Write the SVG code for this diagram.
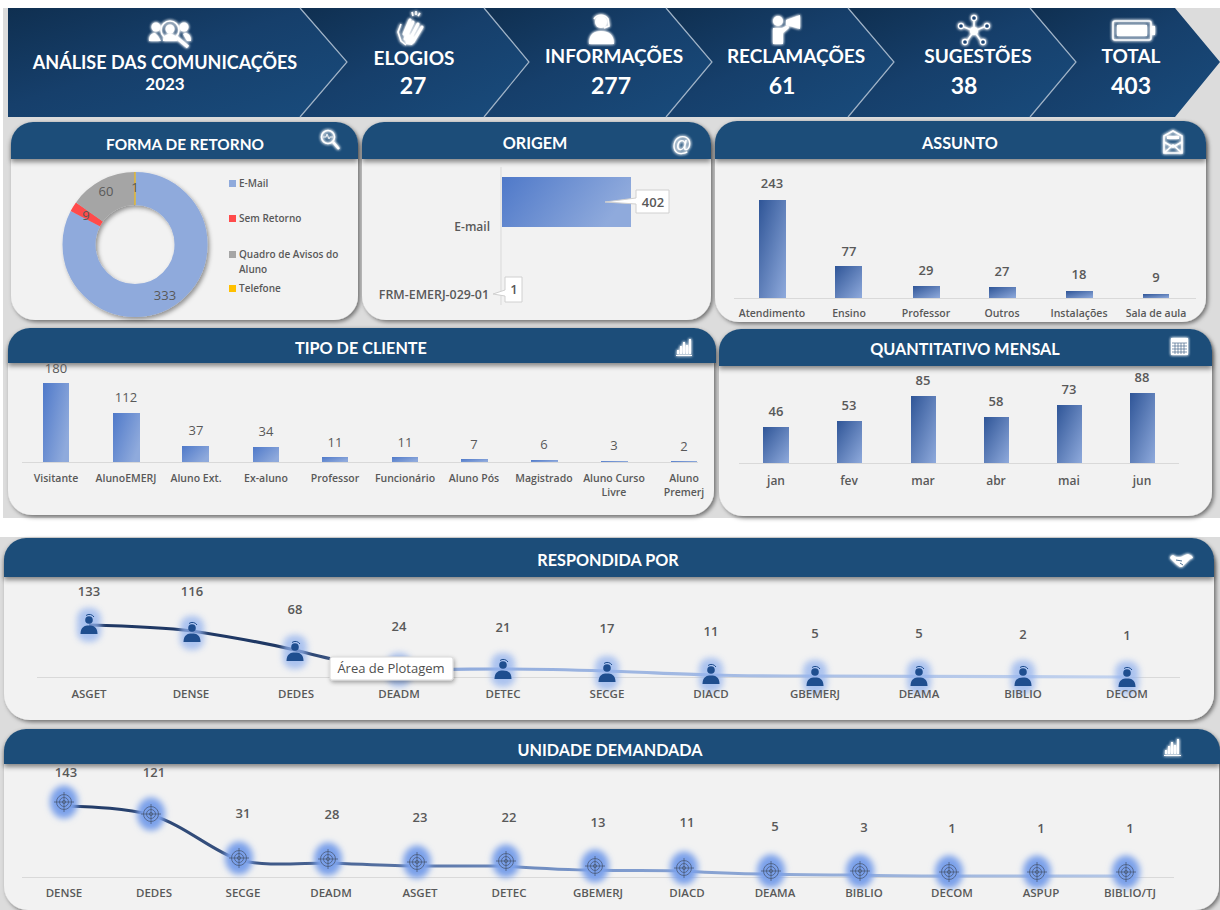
<svg xmlns="http://www.w3.org/2000/svg" xmlns:xlink="http://www.w3.org/1999/xlink" width="1220" height="910" viewBox="0 0 1220 910">
<style>
text{font-family:"Open Sans","Noto Sans","Liberation Sans",sans-serif;fill:#595959;text-anchor:middle}
.hd{font-family:Lato,"Liberation Sans",sans-serif;font-weight:700;font-size:16.200px;fill:#fff}
.bt{font-family:Lato,"Liberation Sans",sans-serif;font-weight:700;font-size:19px;fill:#fff}
.bn{font-family:Lato,"Liberation Sans",sans-serif;font-weight:700;font-size:23px;fill:#fff}
.v{font-size:13px;font-weight:600}
.vn{font-size:13px;font-weight:400}
.l{font-size:11.500px;font-weight:600}
.s{font-size:10.500px;font-weight:600}
.lg{font-size:10px;font-weight:600;text-anchor:start}
.hdr{fill:#1f4e79}
.body{fill:#f2f2f2}
.axis{stroke:#d9d9d9;stroke-width:1;fill:none}
.ic{fill:#fff;stroke:none}
.icl{fill:none;stroke:#fff;stroke-width:1.600}
.sep{fill:none;stroke:#9fb2c6;stroke-width:1.200}
.bar{fill:url(#bar)}
.barh{fill:url(#barh)}
.bard{fill:url(#bard)}
</style>
<defs>
<linearGradient id="chev" x1="0" y1="0" x2="1" y2="1"><stop offset="0" stop-color="#0f2f50"/><stop offset=".45" stop-color="#163f6b"/><stop offset="1" stop-color="#194c7d"/></linearGradient>
<linearGradient id="bar" x1="0" y1="0" x2="1" y2="1"><stop offset="0" stop-color="#2f5597"/><stop offset="1" stop-color="#8faadc"/></linearGradient>
<linearGradient id="barh" x1="0" y1="0" x2="1" y2=".3"><stop offset="0" stop-color="#4f79c9"/><stop offset="1" stop-color="#8faadc"/></linearGradient>
<linearGradient id="bard" x1="0" y1="0" x2="1" y2=".6"><stop offset="0" stop-color="#4f79c9"/><stop offset="1" stop-color="#8faadc"/></linearGradient>
<linearGradient id="lineA" gradientUnits="userSpaceOnUse" x1="89" y1="0" x2="1127" y2="0"><stop offset="0" stop-color="#1f3864"/><stop offset=".2" stop-color="#1f3864"/><stop offset=".33" stop-color="#8faadc"/><stop offset="1" stop-color="#c3d3ee"/></linearGradient>
<linearGradient id="lineB" gradientUnits="userSpaceOnUse" x1="64" y1="0" x2="1126" y2="0"><stop offset="0" stop-color="#1f3864"/><stop offset=".15" stop-color="#36507e"/><stop offset=".5" stop-color="#7b98cc"/><stop offset="1" stop-color="#b4c7e7"/></linearGradient>
<filter id="sh" x="-5%" y="-5%" width="112%" height="115%"><feDropShadow dx="2" dy="2" stdDeviation="2" flood-color="#000" flood-opacity=".5"/></filter>
<filter id="dn" filterUnits="userSpaceOnUse" x="40" y="150" width="200" height="190"><feDropShadow dx="2" dy="2.500" stdDeviation="2" flood-color="#000" flood-opacity=".4"/></filter>
<filter id="hs" x="-5%" y="-20%" width="110%" height="160%"><feDropShadow dx="0" dy="3" stdDeviation="2.500" flood-color="#000" flood-opacity=".45"/></filter>
<filter id="gl" x="-50%" y="-50%" width="200%" height="200%"><feGaussianBlur stdDeviation="1.600" result="b"/><feMerge><feMergeNode in="b"/><feMergeNode in="b"/><feMergeNode in="SourceGraphic"/></feMerge></filter>
<filter id="bl" x="-60%" y="-60%" width="220%" height="220%"><feGaussianBlur stdDeviation="3"/></filter>
<filter id="ts" x="-10%" y="-20%" width="125%" height="150%"><feDropShadow dx="1" dy="2" stdDeviation="2" flood-color="#000" flood-opacity=".35"/></filter>
<g id="person">
<rect x="-12" y="-17" width="24" height="34" rx="10" fill="#93b2ee" opacity=".75" filter="url(#bl)"/>
<circle cx="0" cy="-5" r="3.800" fill="#1f4e8f"/>
<path d="M-3-9.500a5.500 5.500 0 0 1 8 1.500" fill="none" stroke="#1f4e8f" stroke-width="1"/>
<path d="M-8.500 9c0-7 4-8.500 8.500-8.500s8.500 1.500 8.500 8.500z" fill="#1f4e8f"/>
</g>
<g id="target">
<ellipse rx="14" ry="16.500" fill="#7aa0ea" filter="url(#bl)"/>
<g fill="none" stroke="#4a5a78" stroke-width=".8">
<circle r="7.500"/><circle r="4.500"/><circle r="1.600"/><path d="M-10 0h20M0-10v20"/>
</g>
</g>
</defs>

<rect width="1220" height="910" fill="#fff"/>
<rect x="3" y="8" width="1217" height="510" fill="#dcdcdc"/>
<rect x="0" y="537" width="1220" height="373" fill="#dcdcdc"/>

<g id="banner">
<polygon fill="url(#chev)" points="1030,8 1175,8 1220,62 1175,117 1030,117 1076,62"/>
<polygon fill="url(#chev)" points="848,8 1030,8 1076,62 1030,117 848,117 894,62"/>
<polygon fill="url(#chev)" points="666,8 848,8 894,62 848,117 666,117 712,62"/>
<polygon fill="url(#chev)" points="484,8 666,8 712,62 666,117 484,117 529,62"/>
<polygon fill="url(#chev)" points="300,8 484,8 529,62 484,117 300,117 347,62"/>
<polygon fill="url(#chev)" points="8,8 300,8 347,62 300,117 8,117"/>
<path class="sep" d="M300 8L347 62 300 117M484 8L529 62 484 117M666 8L712 62 666 117M848 8L894 62 848 117M1030 8L1076 62 1030 117"/>
</g>
<g id="kpi-analise">
<g filter="url(#gl)"><circle cx="170" cy="30" r="9" class="icl"/><circle cx="170" cy="29" r="4.500" class="ic"/><path class="ic" d="M163 41c0-5 3-7 7-7s7 2 7 7zM149 41c0-6 3-8 6-8l3 3 3 5zM191 41c0-6-3-8-6-8l-2 1 4 7z"/><circle class="ic" cx="156" cy="27" r="4.500"/><circle class="ic" cx="184" cy="27" r="4.500"/><path d="M176 37l12 10" stroke="#fff" stroke-width="3.500"/></g>
<text class="bt" x="165" y="69" style="font-size:18px">ANÁLISE DAS COMUNICAÇÕES</text>
<text class="bt" x="165" y="90" style="font-size:17px">2023</text>
</g>
<g id="kpi-elogios">
<g filter="url(#gl)"><g stroke="#fff" stroke-width="3" stroke-linecap="round"><path d="M405 39L413 22M409 41L418 24M413 42L422 27M404 34L410 20"/></g><path class="ic" d="M404 32l12 6-4 7-6-1z"/><path class="icl" d="M401 24l-3 8 3 9 5 4M412 12l1 4M416 11v4M420 13l-2 3" stroke-width="1.200"/></g>
<text class="bt" x="414" y="65">ELOGIOS</text><text class="bn" x="413" y="94">27</text>
</g>
<g id="kpi-informacoes">
<g filter="url(#gl)"><circle class="ic" cx="601" cy="22" r="6"/><path class="icl" d="M594 19a8.500 8.500 0 0 1 14 0l1 7-5 2"/><path class="ic" d="M589 44c0-10 5-13 12-13s13 3 13 13z"/></g>
<text class="bt" x="614" y="63">INFORMAÇÕES</text><text class="bn" x="611" y="94">277</text>
</g>
<g id="kpi-reclamacoes">
<g filter="url(#gl)"><circle class="ic" cx="778" cy="21" r="5"/><path class="ic" d="M773 28h9l6-3 1 3-6 5v11h-10zM786 20l14-5v14l-14-4z"/></g>
<text class="bt" x="796" y="63">RECLAMAÇÕES</text><text class="bn" x="782" y="94">61</text>
</g>
<g id="kpi-sugestoes">
<g filter="url(#gl)"><path class="icl" d="M974 31V20M974 31l-10-4M974 31l10-4M974 31l-7 10M974 31l7 10" stroke-width="1.200"/><circle class="ic" cx="974" cy="31" r="4"/><g fill="#1a4474" stroke="#fff" stroke-width="1.300"><circle cx="974" cy="18" r="2.500"/><circle cx="961" cy="26" r="2.500"/><circle cx="987" cy="26" r="2.500"/><circle cx="965" cy="42" r="2.500"/><circle cx="983" cy="42" r="2.500"/></g></g>
<text class="bt" x="978" y="63">SUGESTÕES</text><text class="bn" x="964" y="94">38</text>
</g>
<g id="kpi-total">
<g filter="url(#gl)"><rect x="1113" y="21" width="38" height="19" rx="2" class="icl" stroke-width="2"/><rect class="ic" x="1117" y="25" width="30" height="11"/><rect class="ic" x="1152" y="26" width="3" height="9"/></g>
<text class="bt" x="1131" y="63">TOTAL</text><text class="bn" x="1131" y="94">403</text>
</g>

<g id="forma-de-retorno">
<rect class="body" x="11" y="122" width="347" height="198" rx="24" filter="url(#sh)"/>
<path class="hdr" filter="url(#hs)" d="M11 159v-15a22 22 0 0 1 22-22h303a22 22 0 0 1 22 22v15z"/>
<text class="hd" x="185" y="150" style="font-size:15.400px">FORMA DE RETORNO</text>
<g filter="url(#gl)"><circle class="icl" cx="328" cy="137" r="6.500"/><path d="M333 142l6 7" stroke="#fff" stroke-width="2.500"/><path d="M323 137h3l1-3 2 5 1-2h3" fill="none" stroke="#fff" stroke-width=".8"/></g>
<g filter="url(#dn)"><g fill="none" stroke-width="33" transform="rotate(-90 135 244.500)">
<circle cx="135" cy="244.500" r="56" pathLength="403" stroke="#8faadc" stroke-dasharray="333 70"/>
<circle cx="135" cy="244.500" r="56" pathLength="403" stroke="#ff4b4b" stroke-dasharray="9 394" stroke-dashoffset="-333"/>
<circle cx="135" cy="244.500" r="56" pathLength="403" stroke="#a5a5a5" stroke-dasharray="61 342" stroke-dashoffset="-342"/>
</g><path d="M135 172V205" stroke="#ffc000" stroke-width="1.100" fill="none"/></g>
<text class="vn" x="106" y="196">60</text><text class="vn" x="135" y="192">1</text><text class="vn" x="86" y="220">9</text><text class="vn" x="165" y="300">333</text>
<rect x="229" y="180" width="7" height="7" fill="#8faadc"/><text class="lg" x="239" y="187">E-Mail</text>
<rect x="229" y="215" width="7" height="7" fill="#ff4b4b"/><text class="lg" x="239" y="222">Sem Retorno</text>
<rect x="229" y="251" width="7" height="7" fill="#a5a5a5"/><text class="lg" x="239" y="258">Quadro de Avisos do</text><text class="lg" x="239" y="273">Aluno</text>
<rect x="229" y="285" width="7" height="7" fill="#ffc000"/><text class="lg" x="239" y="292">Telefone</text>
</g>

<g id="origem">
<rect class="body" x="362" y="122" width="349" height="198" rx="24" filter="url(#sh)"/>
<path class="hdr" filter="url(#hs)" d="M362 159v-15a22 22 0 0 1 22-22h305a22 22 0 0 1 22 22v15z"/>
<text class="hd" x="535" y="149">ORIGEM</text>
<text x="682" y="151" filter="url(#gl)" style="fill:#fff;font-size:20px;font-family:'Liberation Sans',sans-serif">@</text>
<path class="axis" d="M501 167V305"/>
<rect class="barh" x="502" y="177" width="129" height="50"/>
<text class="l" x="490" y="231" style="text-anchor:end;font-size:12px">E-mail</text>
<text class="l" x="489" y="299" style="text-anchor:end;font-size:12.400px">FRM-EMERJ-029-01</text>
<path d="M636 190h33v23h-33v-9l-31-2 31-4z" fill="#fff" stroke="#d0d0d0"/>
<text class="v" x="653" y="207">402</text>
<path d="M505 277h17v25h-17v-6l-12-2 12-4z" fill="#fff" stroke="#d0d0d0"/>
<text class="v" x="514" y="294">1</text>
</g>

<g id="assunto">
<rect class="body" x="715" y="121" width="491" height="201" rx="24" filter="url(#sh)"/>
<path class="hdr" filter="url(#hs)" d="M715 159v-16a22 22 0 0 1 22-22h447a22 22 0 0 1 22 22v16z"/>
<text class="hd" x="960" y="149">ASSUNTO</text>
<g filter="url(#gl)"><path class="icl" d="M1164 136l9-5 9 5v17h-18zM1164 153l9-8 9 8M1164 142l9 5 9-5" stroke-width="1.400"/><rect class="ic" x="1167" y="136" width="12" height="3"/></g>
<path class="axis" d="M734 298.500H1196" stroke-width="1.500"/>
<rect class="bar" x="759" y="200" width="27" height="98"/><rect class="bar" x="835" y="266" width="27" height="32"/><rect class="bar" x="913" y="286" width="27" height="12"/><rect class="bar" x="989" y="287" width="27" height="11"/><rect class="bar" x="1066" y="291" width="27" height="7"/><rect class="bar" x="1143" y="294" width="26" height="4"/>
<text class="v" x="772" y="188">243</text><text class="v" x="849" y="256">77</text><text class="v" x="926" y="275">29</text><text class="v" x="1002" y="276">27</text><text class="v" x="1079" y="279">18</text><text class="v" x="1156" y="282">9</text>
<text class="s" x="772" y="317">Atendimento</text><text class="s" x="849" y="317">Ensino</text><text class="s" x="926" y="317">Professor</text><text class="s" x="1002" y="317">Outros</text><text class="s" x="1079" y="317">Instalações</text><text class="s" x="1156" y="317">Sala de aula</text>
</g>

<g id="tipo-de-cliente">
<rect class="body" x="8" y="328" width="706" height="187" rx="24" filter="url(#sh)"/>
<path class="hdr" filter="url(#hs)" d="M8 363v-13a22 22 0 0 1 22-22h664a22 22 0 0 1 22 22v13z"/>
<text class="hd" x="361" y="354">TIPO DE CLIENTE</text>
<g filter="url(#gl)"><path class="ic" d="M677 350h2v4h-2zM680 346h2v8h-2zM683 342h2v12h-2zM686 345h2v9h-2zM689 339h2v15h-2zM676 355h16v1h-16z"/></g>
<path class="axis" d="M22 462.500H698"/>
<rect class="bard" x="43" y="383" width="26" height="79"/><rect class="bard" x="113" y="413" width="27" height="49"/><rect class="bard" x="182" y="446" width="27" height="16"/><rect class="bard" x="253" y="447" width="26" height="15"/><rect class="bard" x="322" y="457" width="26" height="5"/><rect class="bard" x="392" y="457" width="26" height="5"/><rect class="bard" x="461" y="459" width="27" height="3"/><rect class="bard" x="531" y="460" width="27" height="2"/><rect class="bard" x="601" y="461" width="27" height="1"/><rect class="bard" x="671" y="461" width="26" height="1"/>
<text class="vn" x="56" y="373">180</text><text class="vn" x="126" y="402">112</text><text class="vn" x="196" y="435">37</text><text class="vn" x="266" y="436">34</text><text class="vn" x="335" y="447">11</text><text class="vn" x="405" y="447">11</text><text class="vn" x="474" y="449">7</text><text class="vn" x="544" y="449">6</text><text class="vn" x="614" y="450">3</text><text class="vn" x="684" y="451">2</text>
<text class="s" x="56" y="482">Visitante</text><text class="s" x="126" y="482">AlunoEMERJ</text><text class="s" x="196" y="482">Aluno Ext.</text><text class="s" x="266" y="482">Ex-aluno</text><text class="s" x="335" y="482">Professor</text><text class="s" x="405" y="482">Funcionário</text><text class="s" x="474" y="482">Aluno Pós</text><text class="s" x="544" y="482">Magistrado</text><text class="s" x="614" y="482">Aluno Curso</text><text class="s" x="614" y="496">Livre</text><text class="s" x="684" y="482">Aluno</text><text class="s" x="684" y="496">Premerj</text>
</g>

<g id="quantitativo-mensal">
<rect class="body" x="719" y="329" width="493" height="187" rx="24" filter="url(#sh)"/>
<path class="hdr" filter="url(#hs)" d="M719 366v-15a22 22 0 0 1 22-22h449a22 22 0 0 1 22 22v15z"/>
<text class="hd" x="965" y="355">QUANTITATIVO MENSAL</text>
<g filter="url(#gl)"><rect class="ic" x="1171" y="338" width="17" height="17"/><path d="M1172 343h15M1172 346h15M1172 349h15M1172 352h15M1175 343v11M1178 343v11M1181 343v11M1184 343v11" stroke="#4a6a8c" stroke-width=".7"/></g>
<path class="axis" d="M739 463.500H1179" stroke-width="1.500"/>
<rect class="bar" x="763" y="427" width="26" height="36"/><rect class="bar" x="837" y="421" width="25" height="42"/><rect class="bar" x="911" y="396" width="25" height="67"/><rect class="bar" x="984" y="417" width="25" height="46"/><rect class="bar" x="1057" y="405" width="25" height="58"/><rect class="bar" x="1130" y="393" width="25" height="70"/>
<text class="v" x="776" y="416">46</text><text class="v" x="849" y="410">53</text><text class="v" x="923" y="385">85</text><text class="v" x="996" y="406">58</text><text class="v" x="1069" y="394">73</text><text class="v" x="1142" y="382">88</text>
<text class="l" x="776" y="485" style="font-size:12px">jan</text><text class="l" x="849" y="485" style="font-size:12px">fev</text><text class="l" x="923" y="485" style="font-size:12px">mar</text><text class="l" x="996" y="485" style="font-size:12px">abr</text><text class="l" x="1069" y="485" style="font-size:12px">mai</text><text class="l" x="1142" y="485" style="font-size:12px">jun</text>
</g>

<g id="respondida-por">
<rect class="body" x="4" y="538" width="1210" height="182" rx="26" filter="url(#sh)"/>
<path class="hdr" filter="url(#hs)" d="M4 577v-17a22 22 0 0 1 22-22h1166a22 22 0 0 1 22 22v17z"/>
<text class="hd" x="608" y="566">RESPONDIDA POR</text>
<g filter="url(#gl)"><path class="ic" d="M1171 556l2-1 3 2 5 0 4-2 3-1 4 2 1 2-3 1-5 5-3 3-2 0-4-3-4-4-2-2z"/><path d="M1176 560l6 1M1180 563l3 2" stroke="#1f4e79" stroke-width=".8"/></g>
<path class="axis" d="M37 677.500H1180"/>
<g id="connectors-respondida" fill="none" stroke="url(#lineA)" stroke-width="3.200"><path d="M89 625C125 626 160 627 192 631C225 636 260 642 295 650C330 659 365 668 399 669C435 670 470 669 503 669C540 669 575 670 607 671C640 672 675 674 711 675C745 676 780 676 815 676L1127 677"/></g>
<use href="#person" x="89" y="625"/><use href="#person" x="192" y="633"/><use href="#person" x="295" y="652"/><use href="#person" x="399" y="670"/><use href="#person" x="503" y="670"/><use href="#person" x="607" y="673"/><use href="#person" x="711" y="675"/><use href="#person" x="815" y="677"/><use href="#person" x="919" y="677"/><use href="#person" x="1023" y="677"/><use href="#person" x="1127" y="678"/>
<text class="v" x="89" y="596">133</text><text class="v" x="192" y="596">116</text><text class="v" x="295" y="614">68</text><text class="v" x="399" y="631">24</text><text class="v" x="503" y="632">21</text><text class="v" x="607" y="633">17</text><text class="v" x="711" y="636">11</text><text class="v" x="815" y="638">5</text><text class="v" x="919" y="638">5</text><text class="v" x="1023" y="639">2</text><text class="v" x="1127" y="640">1</text>
<text class="l" x="89" y="698">ASGET</text><text class="l" x="191" y="698">DENSE</text><text class="l" x="296" y="698">DEDES</text><text class="l" x="399" y="698">DEADM</text><text class="l" x="503" y="698">DETEC</text><text class="l" x="607" y="698">SECGE</text><text class="l" x="711" y="698">DIACD</text><text class="l" x="815" y="698">GBEMERJ</text><text class="l" x="919" y="698">DEAMA</text><text class="l" x="1023" y="698">BIBLIO</text><text class="l" x="1127" y="698">DECOM</text>
<rect x="330" y="657" width="123" height="23" rx="2" fill="#fff" stroke="#d8d8d8" filter="url(#ts)"/>
<text x="391" y="673" style="font-size:13px;fill:#505050;font-family:'Open Sans',sans-serif">Área de Plotagem</text>
</g>

<g id="unidade-demandada">
<rect class="body" x="4" y="729" width="1215" height="181" rx="24" filter="url(#sh)"/>
<path class="hdr" filter="url(#hs)" d="M4 764v-13a22 22 0 0 1 22-22h1172a22 22 0 0 1 22 22v13z"/>
<text class="hd" x="610" y="756">UNIDADE DEMANDADA</text>
<g filter="url(#gl)"><path class="ic" d="M1165 750h2v4h-2zM1168 746h2v8h-2zM1171 742h2v12h-2zM1174 745h2v9h-2zM1177 739h2v15h-2zM1164 755h17v1h-17z"/></g>
<path class="axis" d="M22 877.500H1174"/>
<g id="connectors-unidade" fill="none" stroke="url(#lineB)" stroke-width="3"><path d="M66 806C95 807 125 808 151 815C185 825 210 850 239 860C265 867 300 863 328 863C360 864 390 866 417 866C450 866 480 866 506 866C535 868 565 870 595 870C625 871 655 870 684 871C715 873 745 874 771 874C800 875 830 875 860 875C890 876 920 876 949 876L1126 876"/></g>
<use href="#target" x="64" y="802"/><use href="#target" x="151" y="814"/><use href="#target" x="239" y="858"/><use href="#target" x="328" y="859"/><use href="#target" x="417" y="862"/><use href="#target" x="506" y="861"/><use href="#target" x="595" y="866"/><use href="#target" x="684" y="868"/><use href="#target" x="771" y="871"/><use href="#target" x="860" y="871"/><use href="#target" x="949" y="872"/><use href="#target" x="1037" y="872"/><use href="#target" x="1126" y="872"/>
<text class="v" x="66" y="777">143</text><text class="v" x="154" y="777">121</text><text class="v" x="243" y="818">31</text><text class="v" x="332" y="819">28</text><text class="v" x="420" y="822">23</text><text class="v" x="509" y="822">22</text><text class="v" x="598" y="827">13</text><text class="v" x="687" y="827">11</text><text class="v" x="775" y="831">5</text><text class="v" x="864" y="832">3</text><text class="v" x="952" y="833">1</text><text class="v" x="1041" y="833">1</text><text class="v" x="1130" y="833">1</text>
<text class="l" x="64" y="897">DENSE</text><text class="l" x="154" y="897">DEDES</text><text class="l" x="243" y="897">SECGE</text><text class="l" x="331" y="897">DEADM</text><text class="l" x="420" y="897">ASGET</text><text class="l" x="509" y="897">DETEC</text><text class="l" x="598" y="897">GBEMERJ</text><text class="l" x="687" y="897">DIACD</text><text class="l" x="775" y="897">DEAMA</text><text class="l" x="864" y="897">BIBLIO</text><text class="l" x="952" y="897">DECOM</text><text class="l" x="1041" y="897">ASPUP</text><text class="l" x="1130" y="897">BIBLIO/TJ</text>
</g>
</svg>
